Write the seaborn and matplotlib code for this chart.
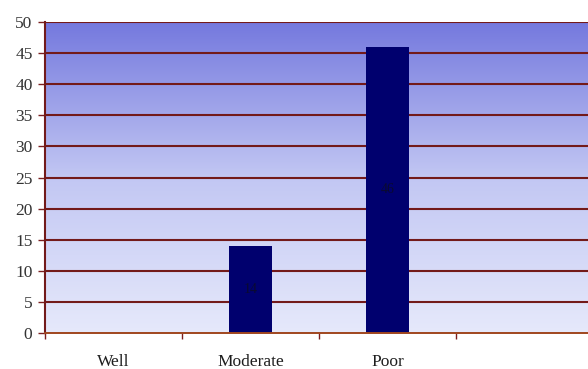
import numpy as np
import pandas as pd
import matplotlib
matplotlib.use("Agg")
import matplotlib.pyplot as plt
from matplotlib.colors import LinearSegmentedColormap
import seaborn as sns

categories = ["Well", "Moderate", "Poor"]
values = [0, 14, 46]
y_ticks = [0, 5, 10, 15, 20, 25, 30, 35, 40, 45, 50]

df = pd.DataFrame({"grade": categories, "count": values})

sns.set_theme(style="white")
plt.rcParams["font.family"] = ["Liberation Serif", "DejaVu Serif"]

fig = plt.figure(figsize=(5.88, 3.69), dpi=100)
ax = fig.add_axes([45 / 588, 36 / 369, 548 / 588, 311 / 369])

# vertical gradient background
grad_cmap = LinearSegmentedColormap.from_list("bg", ["#e6e9fb", "#c2c7f3", "#7579de"])
grad = np.linspace(0, 1, 256).reshape(-1, 1)
ax.imshow(grad, cmap=grad_cmap, aspect="auto", origin="lower",
          extent=(-0.5, 3.5, 0, 50), zorder=0)

for y in y_ticks[1:]:
    ax.axhline(y, color="#731a1a", lw=1.5, zorder=1)

sns.barplot(data=df, x="grade", y="count", order=categories,
            color="#00006e", width=0.32, saturation=1, linewidth=0,
            ax=ax, zorder=2)

for cont in ax.containers:
    labels = [f"{v:g}" if v else "" for v in cont.datavalues]
    ax.bar_label(cont, labels=labels, label_type="center",
                 fontsize=10, color="#0a0a30")

ax.set_xlim(-0.5, 3.5)
ax.set_ylim(0, 50)
ax.set_yticks(y_ticks)
ax.set_xticks(range(len(categories)))
ax.set_xticklabels(categories)
ax.set_xticks([-0.5, 0.5, 1.5, 2.5], minor=True)
ax.set_xlabel("")
ax.set_ylabel("")

ax.tick_params(axis="x", which="major", length=0, pad=15, labelsize=12.5,
               labelcolor="#1e1e1e")
ax.tick_params(axis="x", which="minor", length=4, color="#7b1f1f", width=1,
               direction="out", bottom=True)
ax.tick_params(axis="y", length=5, color="#7b1f1f", width=1, direction="out",
               left=True, labelsize=12.5, labelcolor="#333333", pad=4)

for side in ["top", "right"]:
    ax.spines[side].set_visible(False)
ax.spines["left"].set_color("#731a1a")
ax.spines["left"].set_linewidth(1.5)
ax.spines["bottom"].set_color("#a0461e")
ax.spines["bottom"].set_linewidth(1.4)

fig.savefig("out.png", dpi=100)
